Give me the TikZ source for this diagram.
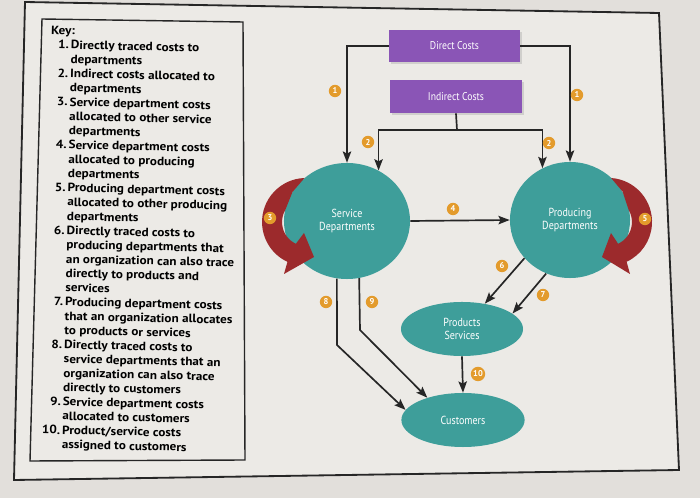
\documentclass[tikz,border=0pt]{standalone}
\usepackage{fontspec}
\setmainfont{PT Sans}
\newfontfamily\keyfont[FakeStretch=1.1]{PT Sans}
\newfontfamily\condfont[FakeStretch=0.86]{PT Sans}
\usetikzlibrary{arrows.meta,shapes.geometric,shadows}
\definecolor{paper}{HTML}{E2DFDB}
\definecolor{innerpaper}{HTML}{ECEAE6}
\definecolor{tealc}{HTML}{3E9E9A}
\definecolor{purp}{HTML}{8A55B6}
\definecolor{redarr}{HTML}{9C2A2C}
\definecolor{orng}{HTML}{E39B2C}
\definecolor{ink}{HTML}{262626}
\begin{document}
\begin{tikzpicture}[x=0.025cm,y=-0.025cm,
  arr/.style={draw=ink, line width=1.2pt, -{Stealth[length=8pt,width=6pt,inset=1.5pt]}},
  plain/.style={draw=ink, line width=1.2pt},
  costbox/.style={rectangle, fill=purp, text=white, font=\condfont\fontsize{8}{9}\selectfont,
    drop shadow={shadow xshift=1.2pt, shadow yshift=-1.2pt, opacity=0.25}},
  dept/.style={ellipse, fill=tealc, text=white, inner sep=0pt, align=center,
    font=\condfont\fontsize{8.3}{9.8}\selectfont},
  num/.style={circle, fill=orng, text=white, inner sep=0pt, minimum size=0.31cm,
    font=\bfseries\fontsize{6}{6}\selectfont},
  redband/.style={fill=redarr},
  frameline/.style={draw=ink, line width=1.3pt},
]
\useasboundingbox (0,0) rectangle (700,498);
\fill[paper] (0,0) rectangle (700,498);
% outer frame
\filldraw[frameline, fill=innerpaper] (25,2) -- (659,13) -- (679,470) -- (14,480) -- cycle;
% key box
\draw[draw=ink, line width=1pt] (42,19) -- (243,22) -- (245,460) -- (30,461) -- cycle;
\node[anchor=north west, rotate=-1.3, inner sep=0pt] (key) at (51,24) {%
\keyfont\bfseries\fontsize{8.5}{10.15}\selectfont
\begin{tabular}{@{}r@{\,}l@{}}
\multicolumn{2}{@{}l}{Key:}\\
1. & Directly traced costs to\\
   & departments\\
2. & Indirect costs allocated to\\
   & departments\\
3. & Service department costs\\
   & allocated to other service\\
   & departments\\
4. & Service department costs\\
   & allocated to producing\\
   & departments\\
5. & Producing department costs\\
   & allocated to other producing\\
   & departments\\
6. & Directly traced costs to\\
   & producing departments that\\
   & an organization can also trace\\
   & directly to products and\\
   & services\\
7. & Producing department costs\\
   & that an organization allocates\\
   & to products or services\\
8. & Directly traced costs to\\
   & service departments that an\\
   & organization can also trace\\
   & directly to customers\\
9. & Service department costs\\
   & allocated to customers\\
10. & Product/service costs\\
   & assigned to customers
\end{tabular}};
% cost boxes
\node[costbox, minimum width=3.28cm, minimum height=0.8cm] (dc) at (454.5,46) {Direct Costs};
\node[costbox, minimum width=3.3cm, minimum height=0.83cm] (ic) at (456,96.5) {Indirect Costs};
% departments
\node[dept, minimum width=3.15cm, minimum height=2.9cm] (svc) at (347,221) {Service\\Departments};
\node[dept, minimum width=3.0cm, minimum height=2.9cm] (prod) at (570,220) {Producing\\Departments};
\node[dept, minimum width=3.05cm, minimum height=1.35cm] (ps) at (462,329) {Products\\Services};
\node[dept, minimum width=3.08cm, minimum height=1.35cm] (cust) at (463,420) {Customers};
% red curved arrows
\fill[redband] (304.5,178) arc[start angle=268, end angle=115, radius=44]
  -- (284,274) -- (314,257) -- (304,233) -- (295.9,243.8)
  arc[start angle=115, end angle=210, radius=24] -- (292.5,192) -- cycle;
\fill[redband] (611.1,178) arc[start angle=274, end angle=425, radius=44]
  -- (630,274) -- (602,257) -- (611,233) -- (618.1,243.8)
  arc[start angle=425, end angle=330, radius=24] -- (622.5,191.5) -- cycle;
% connectors
\draw[arr] (dc.west) -| (svc.north);
\draw[arr] (dc.east) -| (prod.north);
\coordinate (split) at (457,130);
\draw[plain] (ic.south) -- (split);
\draw[arr] (split) -| (svc.58.5);
\draw[arr] (split) -| (prod.118.6);
\draw[arr] (svc.east) -- (prod.west);
\draw[arr] (prod.220.2) -- (ps.48.5);
\draw[arr] (prod.246.5) -- (ps.17.7);
\draw[arr] (ps.south) -- (cust.north);
\coordinate (b8) at (337,345);
\coordinate (b9) at (360,330);
\draw[arr] (svc.260.1) -- (b8) -- (cust.170.7);
\draw[arr] (svc.282.9) -- (b9) -- (cust.148.6);
% number labels
\node[num] (n1a) at (335,91) {1};
\node[num] (n1b) at (577,95) {1};
\node[num] (n2a) at (368,142) {2};
\node[num] (n2b) at (549,143) {2};
\node[num] (n3) at (270,218) {3};
\node[num] (n4) at (453,209) {4};
\node[num] (n5) at (645,219) {5};
\node[num] (n6) at (502,266) {6};
\node[num] (n7) at (543,295) {7};
\node[num] (n8) at (326,302) {8};
\node[num] (n9) at (372,302) {9};
\node[num, minimum size=0.36cm] (n10) at (478,374) {10};
\end{tikzpicture}
\end{document}
